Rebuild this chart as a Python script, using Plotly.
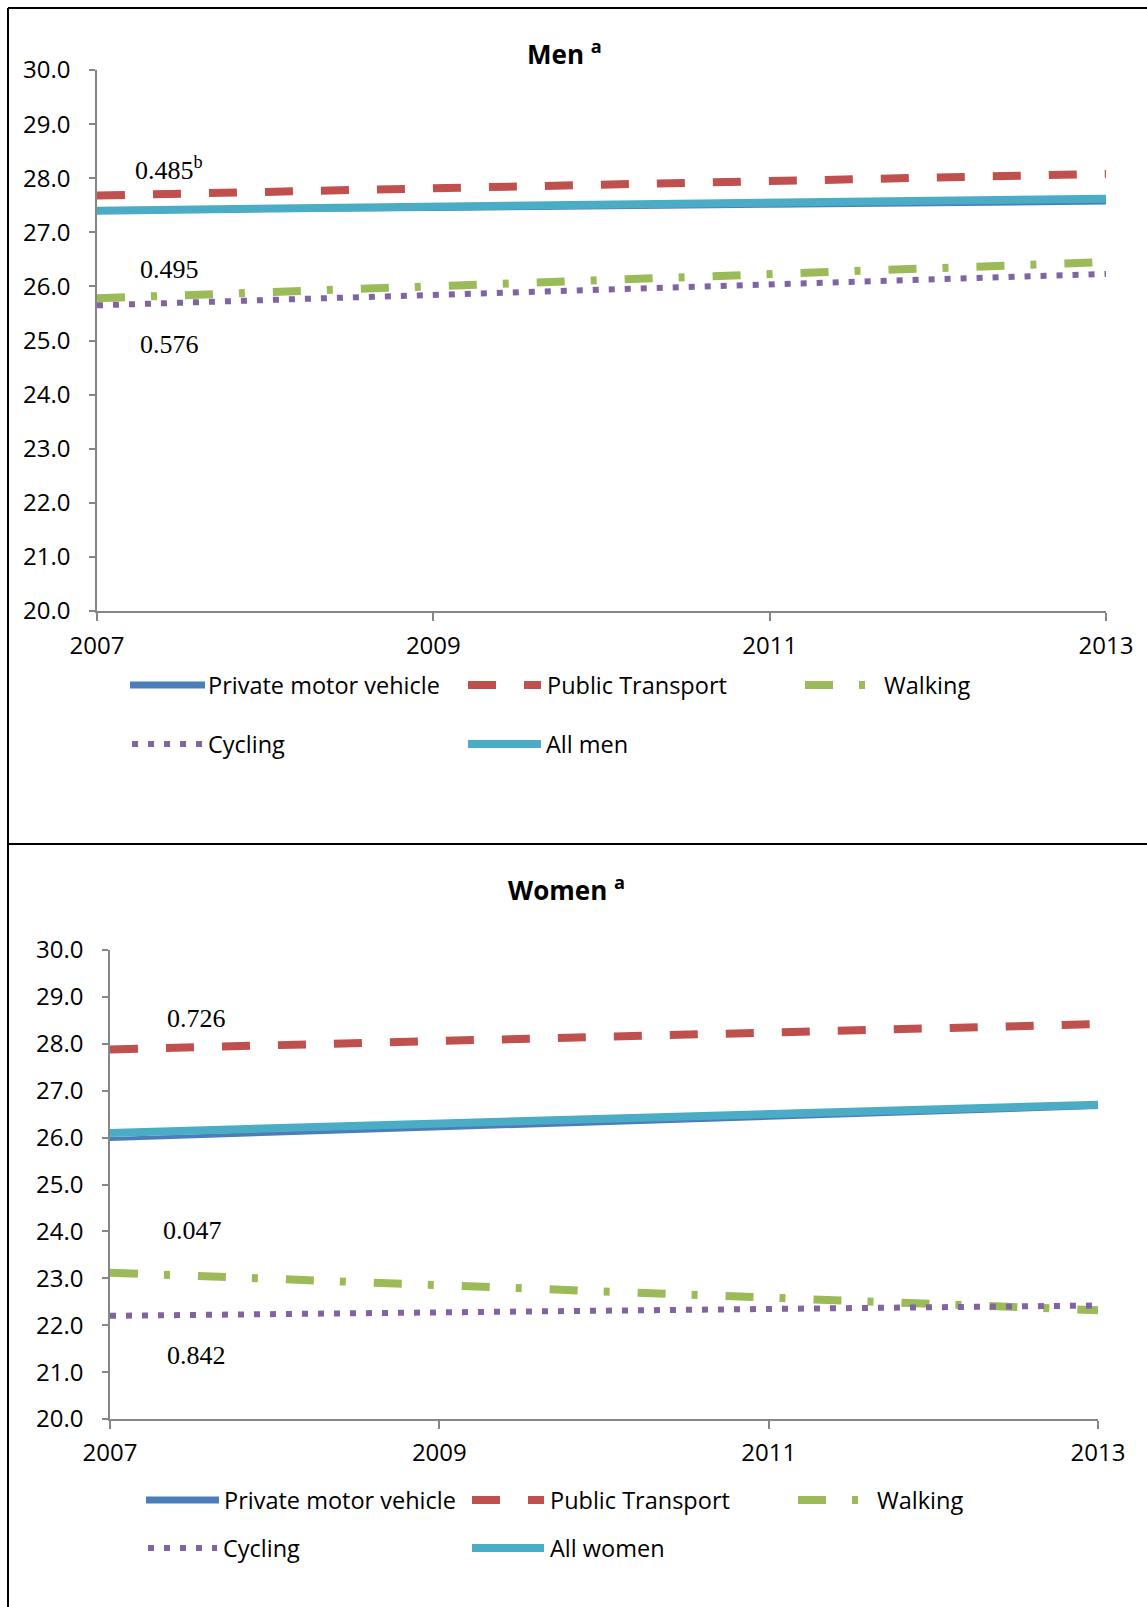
import plotly.graph_objects as go

W, H = 1147, 1607

years = [2007, 2009, 2011, 2013]
tick_years = [2007, 2009, 2011, 2013]
series_names = ["Private motor vehicle", "Public Transport", "Walking", "Cycling"]

men_private = [27.40, 27.43, 27.49, 27.55]
men_public = [27.68, 27.81, 27.95, 28.08]
men_walking = [25.78, 26.00, 26.22, 26.45]
men_cycling = [25.65, 25.85, 26.04, 26.23]
men_all = [27.40, 27.47, 27.54, 27.62]

women_private = [25.97, 26.20, 26.43, 26.65]
women_public = [27.88, 28.06, 28.24, 28.42]
women_walking = [23.12, 22.85, 22.59, 22.32]
women_cycling = [22.20, 22.27, 22.35, 22.42]
women_all = [26.10, 26.30, 26.50, 26.70]

men_pvalues = ["0.485<sup>b</sup>", "0.495", "0.576"]
women_pvalues = ["0.726", "0.047", "0.842"]

COL = {"Private motor vehicle": "#4A7EBB", "Public Transport": "#C0504D",
       "Walking": "#9BBB59", "Cycling": "#8064A2", "All": "#4BACC6"}
DASH = {"Private motor vehicle": "solid", "Public Transport": "28px,28px",
        "Walking": "28px,26px,6px,28px", "Cycling": "6px,10px", "All": "solid"}
WID = {"Private motor vehicle": 4, "Public Transport": 8, "Walking": 8,
       "Cycling": 6, "All": 8}

def px(x):
    return x / W

def py(y):
    return 1 - y / H

fig = go.Figure()

panels = [
    ("x", "y", [men_private, men_public, men_walking, men_cycling, men_all]),
    ("x2", "y2", [women_private, women_public, women_walking, women_cycling, women_all]),
]
keys = series_names + ["All"]
for xa, ya, data in panels:
    for k, vals in zip(keys, data):
        fig.add_trace(go.Scatter(
            x=years, y=vals, mode="lines", xaxis=xa, yaxis=ya, showlegend=False,
            line=dict(color=COL[k], width=WID[k], dash=DASH[k]),
            hoverinfo="skip"))

TICKFONT = dict(family="Open Sans", size=24, color="black")
axis_common = dict(showgrid=False, zeroline=False, showline=True, linecolor="#868686",
                   linewidth=1.5, ticks="outside", tickcolor="#868686", tickwidth=1.5,
                   tickfont=TICKFONT, automargin=False)

fig.update_layout(
    template="none",
    width=W, height=H, autosize=False, margin=dict(l=0, r=0, t=0, b=0, pad=0),
    paper_bgcolor="white", plot_bgcolor="white", showlegend=False,
    xaxis=dict(domain=[px(97), px(1106)], range=[2007, 2013], tickvals=tick_years,
               anchor="y", ticklen=8, ticklabelstandoff=4, **axis_common),
    yaxis=dict(domain=[py(611), py(70)], range=[20, 30], dtick=1, tickformat=".1f",
               anchor="x", ticklen=6, ticklabelstandoff=14, **axis_common),
    xaxis2=dict(domain=[px(110), px(1098)], range=[2007, 2013], tickvals=tick_years,
                anchor="y2", ticklen=8, ticklabelstandoff=3, **axis_common),
    yaxis2=dict(domain=[py(1419), py(950)], range=[20, 30], dtick=1, tickformat=".1f",
                anchor="x2", ticklen=6, ticklabelstandoff=14, **axis_common),
)

shapes = []
ann = []

# frame
for x0, y0, x1, y1 in [(8, 8, W, 8), (8, 8, 8, H), (8, 844, W, 844)]:
    shapes.append(dict(type="line", xref="paper", yref="paper", x0=px(x0), y0=py(y0),
                       x1=px(x1), y1=py(y1), line=dict(color="black", width=2)))

# titles
for text, x, y in [("Men <sup>a</sup>", 564, 53), ("Women <sup>a</sup>", 566, 889)]:
    ann.append(dict(text=text, x=px(x), y=py(y), xref="paper", yref="paper",
                    xanchor="center", yanchor="middle", showarrow=False,
                    font=dict(family="Open Sans", size=26, color="black", weight="bold")))

# p-values
SERIF = dict(family="Liberation Serif", size=26, color="black")
for text, x, y in zip(men_pvalues, [133, 138, 138], [169, 270, 345]):
    ann.append(dict(text=text, x=px(x), y=py(y), xref="paper", yref="paper",
                    xanchor="left", yanchor="middle", showarrow=False, font=SERIF))
for text, x, y in zip(women_pvalues, [165, 161, 165], [1018, 1230, 1355]):
    ann.append(dict(text=text, x=px(x), y=py(y), xref="paper", yref="paper",
                    xanchor="left", yanchor="middle", showarrow=False, font=SERIF))

# legends
LEGFONT = dict(family="Open Sans", size=23.5, color="black")
def legend_entry(key, label, x0, x1, tx, y):
    shapes.append(dict(type="line", xref="paper", yref="paper", x0=px(x0), x1=px(x1),
                       y0=py(y), y1=py(y),
                       line=dict(color=COL[key], width=WID[key] if key != "Private motor vehicle" else 7,
                                 dash=DASH[key])))
    ann.append(dict(text=label, x=px(tx), y=py(y), xref="paper", yref="paper",
                    xanchor="left", yanchor="middle", showarrow=False, font=LEGFONT))

men_leg = [("Private motor vehicle", "Private motor vehicle", 130, 205, 206, 685),
           ("Public Transport", "Public Transport", 468, 541, 545, 685),
           ("Walking", "Walking", 805, 871, 882, 685),
           ("Cycling", "Cycling", 132, 203, 206, 744),
           ("All", "All men", 468, 541, 544, 744)]
women_leg = [("Private motor vehicle", "Private motor vehicle", 146, 219, 222, 1500),
             ("Public Transport", "Public Transport", 472, 544, 548, 1500),
             ("Walking", "Walking", 798, 866, 875, 1500),
             ("Cycling", "Cycling", 148, 217, 221, 1548),
             ("All", "All women", 472, 544, 548, 1548)]
for e in men_leg + women_leg:
    legend_entry(*e)

fig.update_layout(shapes=shapes, annotations=ann)
fig.write_html("out.html")
